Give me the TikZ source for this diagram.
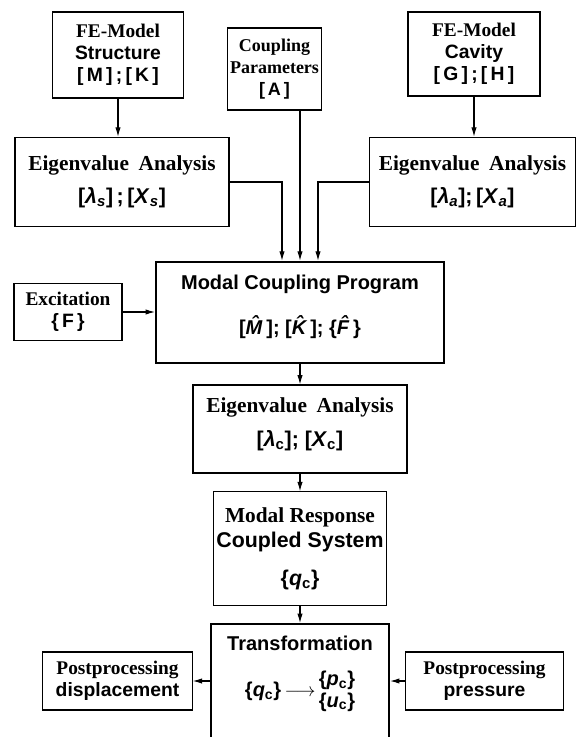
\documentclass[tikz,border=0pt]{standalone}
\usepackage{fontspec}
\setmainfont{Liberation Serif}
\setsansfont{Liberation Sans}
\usetikzlibrary{arrows.meta,positioning}

\begin{document}
\begin{tikzpicture}[
  x=0.75pt,y=-0.75pt,
  box/.style={draw, line width=0.8pt, align=center, inner sep=2pt, font=\bfseries\fontsize{14.5}{16.5}\selectfont},
  bigbox/.style={box, line width=1.6pt},
  big/.style={font=\bfseries\fontsize{16}{18.5}\selectfont},
  arr/.style={-{Latex[length=7pt,width=4pt]}, line width=0.8pt}
]
\useasboundingbox (0,0) rectangle (576,737);
% input models
\node[box, minimum width=98pt, minimum height=64.5pt] (fes) at (118,55) {FE-Model\\ \textsf{Structure}\\ \textsf{[\,M\,]\,;\,[\,K\,]}};
\node[box, minimum width=68pt, minimum height=61.5pt, font=\bfseries\fontsize{13.5}{16.5}\selectfont] (cp) at (274.5,69) {Coupling\\Parameters\\ \textsf{[\,A\,]}};
\node[box, minimum width=99pt, minimum height=63pt] (fec) at (474,54) {FE-Model\\ \textsf{Cavity}\\ \textsf{[\,G\,]\,;\,[\,H\,]}};
% uncoupled eigenvalue analyses
\node[box, big, minimum width=160.5pt, minimum height=67pt] (eigs) at (122,182) {Eigenvalue\hspace{0.45em}Analysis\\[6pt] \textsf{[\textit{λ}\textsubscript{\textit{s}}]\,;\,[\textit{X}\textsubscript{\textit{s}}]}};
\node[box, big, minimum width=154pt, minimum height=67pt] (eiga) at (472.5,182) {Eigenvalue\hspace{0.45em}Analysis\\[6pt] \textsf{[\textit{λ}\textsubscript{\textit{a}}];\,[\textit{X}\textsubscript{\textit{a}}]}};
% coupling
\node[bigbox, font=\bfseries\fontsize{15}{17}\selectfont, text depth=12pt, minimum width=216pt, minimum height=76pt] (mcp) at (300,312.5) {\textsf{Modal Coupling Program}\\[16pt] \textsf{[\textit{\^M}];\ [\textit{\^K}];\ \{\textit{\^F}\}}};
\node[box, minimum width=81pt, minimum height=43pt] (exc) at (68,312) {Excitation\\ \textsf{\{\,F\,\}}};
\node[box, big, text depth=11pt, minimum width=160.5pt, minimum height=66pt] (eigc) at (300,429) {Eigenvalue\hspace{0.45em}Analysis\\[7pt] \textsf{[\textit{λ}\textsubscript{c}];\ [\textit{X}\textsubscript{c}]}};
\node[box, big, minimum width=128pt, minimum height=85pt] (mrc) at (300,548.5) {Modal Response\\ \textsf{Coupled System}\\[10pt] \textsf{\{\textit{q}\textsubscript{c}\}}};
% output
\node[bigbox, minimum width=133.5pt, minimum height=110pt, anchor=north] (trf) at (300,623) {};
\node[anchor=north, align=center, font=\bfseries\fontsize{15}{17}\selectfont] (trftxt) at ([yshift=-6pt]trf.north) {\textsf{Transformation}\\[14pt] \textsf{\{\textit{q}\textsubscript{c}\}\,$\longrightarrow$\,\renewcommand{\arraystretch}{0.95}\begin{tabular}[c]{@{}c@{}}\{\textit{p}\textsubscript{c}\}\\ \{\textit{u}\textsubscript{c}\}\end{tabular}}};
\node[box, minimum width=112pt, minimum height=43.5pt] (disp) at (117.5,681) {Postprocessing\\ \textsf{displacement}};
\node[box, minimum width=118pt, minimum height=43.5pt] (pres) at (484.5,681) {Postprocessing\\ \textsf{pressure}};
% connectors
\draw[arr] (fes.south) -- (fes.south |- eigs.north);
\draw[arr] (fec.south) -- (fec.south |- eiga.north);
\draw[arr] (eigs.east) -| ([xshift=-13.5pt]mcp.north);
\draw[arr] (cp.south -| mcp.north) -- (mcp.north);
\draw[arr] (eiga.west) -| ([xshift=13.5pt]mcp.north);
\draw[arr] (exc.east) -- (exc.east -| mcp.west);
\draw[arr] (mcp) -- (eigc);
\draw[arr] (eigc) -- (mrc);
\draw[arr] (mrc) -- (trf);
\draw[arr] (trf.west |- disp.east) -- (disp.east);
\draw[arr] (pres.west) -- (pres.west -| trf.east);
\end{tikzpicture}
\end{document}
